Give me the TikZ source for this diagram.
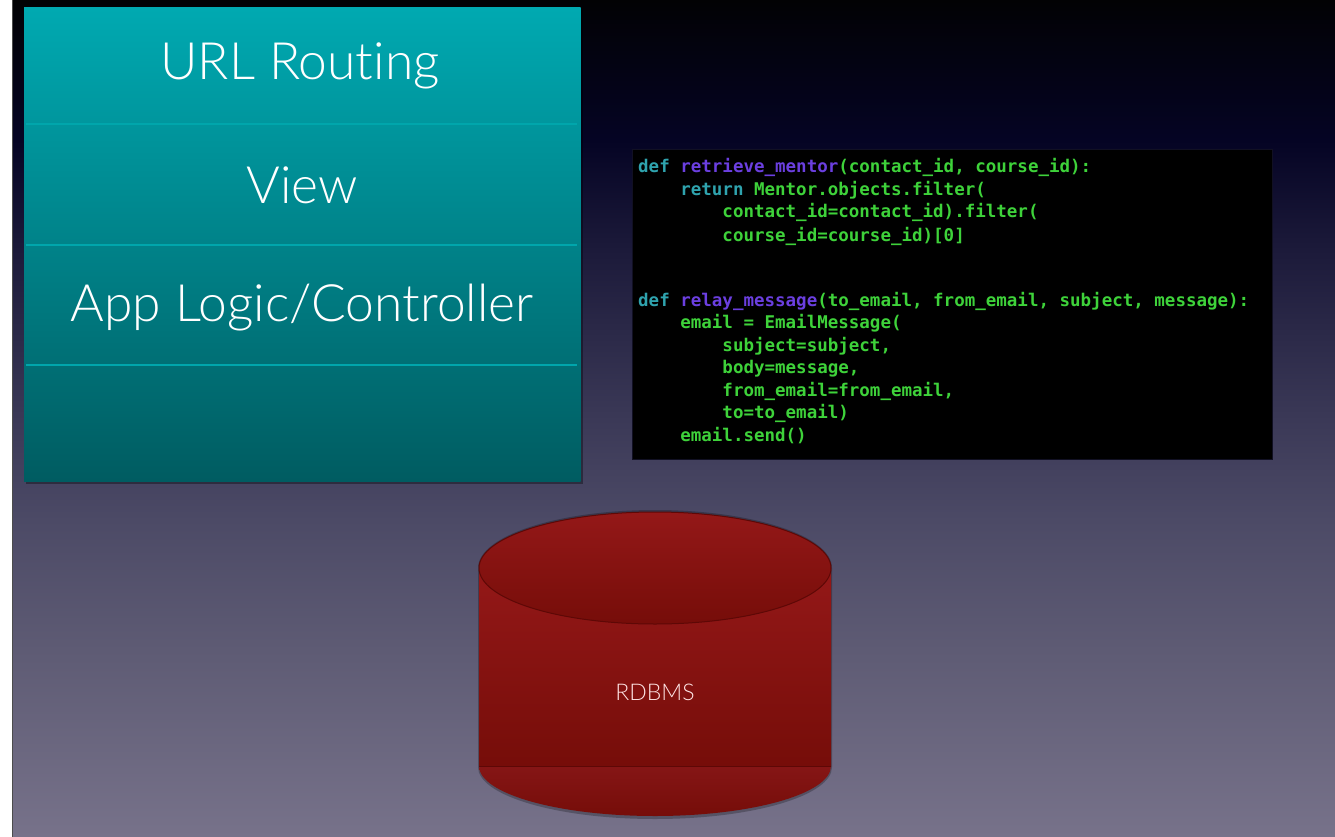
\documentclass[tikz,border=0pt]{standalone}
\usepackage{fontspec}
\IfFontExistsTF{Lato Light}{\setmainfont{Lato Light}[Ligatures={NoCommon}]}{\setmainfont{Liberation Sans}}
\setmonofont{DejaVu Sans Mono}
\usetikzlibrary{shapes.geometric}
\definecolor{tealtop}{HTML}{00A9B1}
\definecolor{tealbot}{HTML}{005C61}
\definecolor{tealline}{HTML}{00A6AC}
\definecolor{redtop}{HTML}{941818}
\definecolor{redbot}{HTML}{760D09}
\definecolor{rededge}{HTML}{5E0806}
\definecolor{cdef}{HTML}{2FA3AE}
\definecolor{cfun}{HTML}{6B3FE0}
\definecolor{cgrn}{HTML}{3ED23A}
\definecolor{bg0}{HTML}{020204}
\definecolor{bg1}{HTML}{050424}
\definecolor{bg2}{HTML}{1C1A3A}
\definecolor{bg3}{HTML}{3B3957}
\definecolor{bg4}{HTML}{4C4A66}
\definecolor{bg5}{HTML}{5E5B74}
\definecolor{bg6}{HTML}{77728A}
\pgfdeclareverticalshading{bgshade}{100bp}{color(0bp)=(bg6); color(25bp)=(bg6); color(36.17bp)=(bg5); color(43.94bp)=(bg4); color(49.91bp)=(bg3); color(60.07bp)=(bg2); color(66.64bp)=(bg1); color(75bp)=(bg0); color(100bp)=(bg0)}
\tikzset{
  label/.style={text=white, font=\fontsize{51.5}{56}\selectfont, inner sep=0pt},
  codeline/.style={anchor=base west, inner sep=0pt, font=\ttfamily\bfseries\fontsize{17.5}{20}\selectfont, text=cgrn},
  divider/.style={draw=tealline, line width=2pt},
}
\begin{document}
\begin{tikzpicture}[x=1pt,y=-1pt]
\useasboundingbox (0,0) rectangle (1335,837);
% page background
\fill[white] (0,0) rectangle (1335,837);
\shade[shading=bgshade] (12,0) rectangle (1335,837);
\draw[black!70, line width=1pt] (12.5,0) -- (12.5,837);
% teal stack
\fill[black, opacity=0.35] (26,10) rectangle (583,484);
\shade[top color=tealtop, bottom color=tealbot] (24,8) rectangle (580.5,481);
\draw[divider] (26,124) -- (577,124);
\draw[divider] (26,244.5) -- (577,244.5);
\draw[divider] (26,365) -- (577,365);
\node[label] (url) at (300,66) {URL Routing};
\node[label] (view) at (302,185) {View};
\node[label] (app) at (302,308) {App Logic/Controller};
% code box
\fill[black!40!bg2] (631.5,149) rectangle (1273,460);
\fill[black] (632.7,150) rectangle (1272,459);
\node[codeline] (c1) at (638,173) {\textcolor{cdef}{def} \textcolor{cfun}{retrieve\_mentor}(contact\_id, course\_id):};
\node[codeline] (c2) at (638,196) {\phantom{def }\textcolor{cdef}{return} Mentor.objects.filter(};
\node[codeline] (c3) at (638,218) {\phantom{defdefde}contact\_id=contact\_id).filter(};
\node[codeline] (c4) at (638,241) {\phantom{defdefde}course\_id=course\_id)[0]};
\node[codeline] (c5) at (638,306) {\textcolor{cdef}{def} \textcolor{cfun}{relay\_message}(to\_email, from\_email, subject, message):};
\node[codeline] (c6) at (638,328) {\phantom{def }email = EmailMessage(};
\node[codeline] (c7) at (638,351) {\phantom{defdefde}subject=subject,};
\node[codeline] (c8) at (638,373) {\phantom{defdefde}body=message,};
\node[codeline] (c9) at (638,396) {\phantom{defdefde}from\_email=from\_email,};
\node[codeline] (c10) at (638,418) {\phantom{defdefde}to=to\_email)};
\node[codeline] (c11) at (638,441) {\phantom{def }email.send()};
% cylinder (y axis points down: angle 90 is screen-down)
\fill[black, opacity=0.25] (832,767) arc[start angle=0, end angle=180, x radius=177, y radius=52] -- (478,568) arc[start angle=180, end angle=360, x radius=177, y radius=58] -- cycle;
\shade[top color=redtop!90!black, bottom color=redbot] (831,766) arc[start angle=0, end angle=180, x radius=176, y radius=50] -- cycle;
\shade[top color=redtop, bottom color=redbot] (479,568) rectangle (831,766);
\draw[rededge, line width=1pt] (479,766) -- (831,766);
\shade[top color=redtop, bottom color=redbot, draw=rededge, line width=1pt] (655,568) ellipse[x radius=176, y radius=56];
\node[text=white!90!red, font=\fontsize{23}{26}\selectfont, inner sep=0pt] (db) at (655,692) {RDBMS};
\end{tikzpicture}
\end{document}
